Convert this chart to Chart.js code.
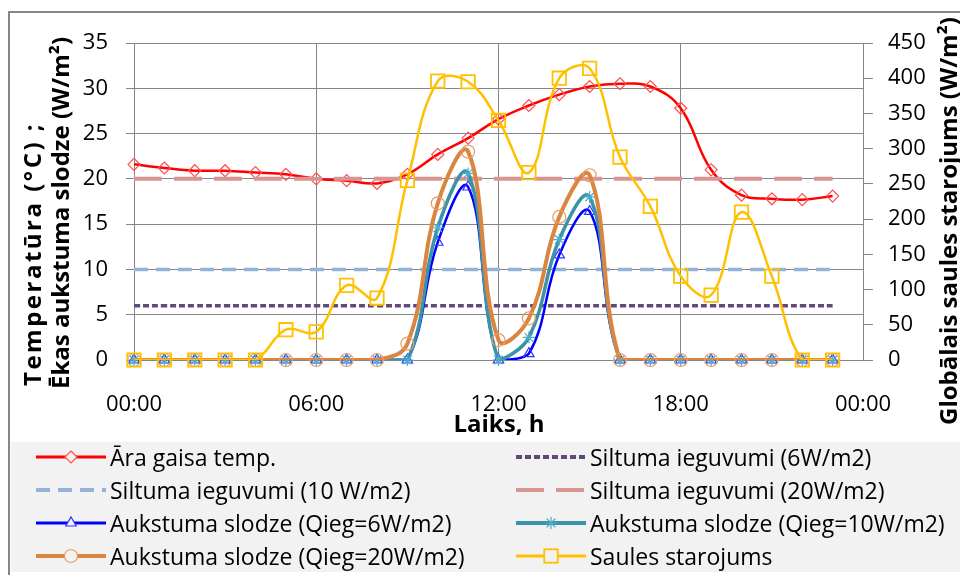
<!DOCTYPE html>
<html lang="lv">
<head>
<meta charset="utf-8">
<title>Āra gaisa temperatūra, aukstuma slodze un saules starojums</title>
<script src="https://cdn.jsdelivr.net/npm/chart.js@4.4.1/dist/chart.umd.min.js"></script>
<style>
  html, body { margin: 0; padding: 0; background: #fff; }
  #box { position: relative; width: 960px; height: 583px; overflow: hidden; font-family: "Open Sans", sans-serif; color: #000; }
  #frame { position: absolute; left: 8px; top: 11px; width: 1000px; height: 562px; border-left: 2px solid #868686; border-top: 2px solid #868686; }
  #chart { position: absolute; left: 0; top: 0; }
  .axis-title { position: absolute; font-weight: bold; font-size: 24px; line-height: 24px; white-space: nowrap; }
  .rot { transform-origin: 0 0; transform: rotate(-90deg); }
  #legend { position: absolute; left: 11px; top: 442px; width: 949px; height: 130px; background: #f2f2f2; }
  .item { position: absolute; height: 32px; display: flex; align-items: center; font-size: 23px; white-space: nowrap; }
  .item svg { margin-right: 4px; flex: none; }
</style>
</head>
<body>
<div id="box">
  <div id="frame"></div>
  <canvas id="chart" width="960" height="583"></canvas>
  <div class="axis-title rot" style="left:20px; top:386px; letter-spacing:2.5px;">Temperatūra (°C) ;</div>
  <div class="axis-title rot" style="left:48px; top:389px;">Ēkas aukstuma slodze (W/m²)</div>
  <div class="axis-title rot" style="left:936px; top:425px;">Globālais saules starojums (W/m²)</div>
  <div class="axis-title" style="left:499px; top:411px; transform:translateX(-50%);">Laiks, h</div>
  <div id="legend"></div>
</div>
<script>
// hourly values, 00:00 .. 23:00
const hours = [0, 1, 2, 3, 4, 5, 6, 7, 8, 9, 10, 11, 12, 13, 14, 15, 16, 17, 18, 19, 20, 21, 22, 23];
const xTickValues = [0, 6, 12, 18, 24];
const xTickLabels = ['00:00', '06:00', '12:00', '18:00', '00:00'];

const outdoorTemp = [21.6, 21.2, 20.9, 20.9, 20.7, 20.5, 20.0, 19.8, 19.5, 20.5, 22.7, 24.5,
                     26.6, 28.1, 29.3, 30.2, 30.5, 30.2, 27.8, 21.0, 18.2, 17.8, 17.7, 18.1];
const gains6 = [6, 6, 6, 6, 6, 6, 6, 6, 6, 6, 6, 6, 6, 6, 6, 6, 6, 6, 6, 6, 6, 6, 6, 6];
const gains10 = [10, 10, 10, 10, 10, 10, 10, 10, 10, 10, 10, 10, 10, 10, 10, 10, 10, 10, 10, 10, 10, 10, 10, 10];
const gains20 = [20, 20, 20, 20, 20, 20, 20, 20, 20, 20, 20, 20, 20, 20, 20, 20, 20, 20, 20, 20, 20, 20, 20, 20];
const coolingQ6 = [0, 0, 0, 0, 0, 0, 0, 0, 0, 0, 13.0, 19.1, 0, 0.7, 11.6, 16.4, 0, 0, 0, 0, 0, 0, 0, 0];
const coolingQ10 = [0, 0, 0, 0, 0, 0, 0, 0, 0, 0, 14.6, 20.6, 0, 2.5, 13.3, 18.0, 0, 0, 0, 0, 0, 0, 0, 0];
const coolingQ20 = [0, 0, 0, 0, 0, 0, 0, 0, 0, 1.8, 17.3, 23.0, 2.2, 4.6, 15.8, 20.4, 0, 0, 0, 0, 0, 0, 0, 0];
const solarRadiation = [0, 0, 0, 0, 0, 43, 40, 106, 88, 255, 396, 395, 340, 266, 400, 414, 288, 218, 119, 92, 210, 119, 0, 0];

const seriesNames = [
  'Āra gaisa temp.',
  'Siltuma ieguvumi (6W/m2)',
  'Siltuma ieguvumi (10 W/m2)',
  'Siltuma ieguvumi (20W/m2)',
  'Aukstuma slodze (Qieg=6W/m2)',
  'Aukstuma slodze (Qieg=10W/m2)',
  'Aukstuma slodze (Qieg=20W/m2)',
  'Saules starojums'
];
const seriesValues = [outdoorTemp, gains6, gains10, gains20, coolingQ6, coolingQ10, coolingQ20, solarRadiation];

const styles = [
  { color: '#FF0000', width: 2.5, dash: [], marker: 'rectRot', markerColor: '#FF4D4D', radius: 6, axis: 'y' },
  { color: '#604A7B', width: 3.5, dash: [6, 3], marker: null, axis: 'y' },
  { color: '#95B3D7', width: 3.5, dash: [14, 8], marker: null, axis: 'y' },
  { color: '#D99594', width: 4, dash: [28, 12], marker: null, axis: 'y' },
  { color: '#0000FF', width: 2.5, dash: [], marker: 'triangle', markerColor: '#3030FF', radius: 6, axis: 'y' },
  { color: '#3A93A9', width: 3.5, dash: [], marker: 'star', markerColor: '#4BACC6', radius: 6, axis: 'y' },
  { color: '#DA8540', width: 4, dash: [], marker: 'circle', markerColor: '#E89C68', radius: 6.5, axis: 'y' },
  { color: '#FFC000', width: 2.5, dash: [], marker: 'rect', markerColor: '#FFC000', radius: 9.5, axis: 'y2' }
];

const toPoints = values => hours.map((h, i) => ({ x: h, y: values[i] }));

const datasets = [];
seriesValues.forEach((values, i) => {
  const st = styles[i];
  const order = (seriesValues.length - i) * 2;
  datasets.push({
    label: seriesNames[i],
    data: toPoints(values),
    yAxisID: st.axis,
    borderColor: st.color,
    borderWidth: st.width,
    borderDash: st.dash,
    pointRadius: 0,
    tension: 0.4,
    fill: false,
    order: order
  });
  if (st.marker) {
    datasets.push({
      label: seriesNames[i] + ' (markers)',
      data: toPoints(values),
      yAxisID: st.axis,
      showLine: false,
      clip: false,
      pointStyle: st.marker,
      pointRadius: st.radius,
      pointBorderColor: st.markerColor,
      pointBackgroundColor: 'rgba(0,0,0,0)',
      pointBorderWidth: st.marker === 'rect' ? 1.8 : 1.2,
      order: order - 1
    });
  }
});

Chart.defaults.font.family = '"Open Sans", sans-serif';
Chart.defaults.color = '#000';

const tickFont = { family: '"Open Sans", sans-serif', size: 22 };

new Chart(document.getElementById('chart'), {
  type: 'line',
  data: { datasets },
  options: {
    responsive: false,
    animation: false,
    devicePixelRatio: 1,
    layout: { padding: { top: 43, left: 0, right: 0, bottom: 0 } },
    plugins: { legend: { display: false }, tooltip: { enabled: false } },
    events: [],
    scales: {
      x: {
        type: 'linear',
        min: 0,
        max: 24,
        afterBuildTicks: scale => { scale.ticks = xTickValues.map(v => ({ value: v })); },
        ticks: {
          callback: v => xTickLabels[xTickValues.indexOf(v)],
          font: tickFont,
          color: '#000',
          padding: 32,
          maxRotation: 0,
          autoSkip: false
        },
        grid: { color: '#868686', lineWidth: 1, tickLength: 0 },
        border: { color: '#868686' },
        afterFit: scale => { scale.height = 223; }
      },
      y: {
        position: 'left',
        min: 0,
        max: 35,
        ticks: { stepSize: 5, font: tickFont, color: '#000', padding: 18 },
        grid: { color: '#868686', lineWidth: 1, tickLength: 8 },
        border: { color: '#868686' },
        afterFit: scale => { scale.width = 134; }
      },
      y2: {
        position: 'right',
        min: 0,
        max: 450,
        ticks: { stepSize: 50, font: tickFont, color: '#000', padding: 15 },
        grid: { drawOnChartArea: false, color: '#868686', lineWidth: 1, tickLength: 10 },
        border: { color: '#868686' },
        afterFit: scale => { scale.width = 97; }
      }
    }
  }
});

// legend below the chart, two columns
function markerSvg(st, cx, cy) {
  const c = st.markerColor;
  const r = st.radius;
  if (st.marker === 'rectRot') {
    return `<polygon points="${cx},${cy - r} ${cx + r},${cy} ${cx},${cy + r} ${cx - r},${cy}" fill="#f2f2f2" stroke="${c}" stroke-width="1.2"/>`;
  }
  if (st.marker === 'triangle') {
    return `<polygon points="${cx},${cy - r} ${cx + r * 0.87},${cy + r * 0.5} ${cx - r * 0.87},${cy + r * 0.5}" fill="#f2f2f2" stroke="${c}" stroke-width="1.2"/>`;
  }
  if (st.marker === 'star') {
    const d = r * 0.707;
    return `<path d="M${cx} ${cy - r}V${cy + r}M${cx - r} ${cy}H${cx + r}M${cx - d} ${cy - d}L${cx + d} ${cy + d}M${cx - d} ${cy + d}L${cx + d} ${cy - d}" stroke="${c}" stroke-width="1.2"/>`;
  }
  if (st.marker === 'circle') {
    return `<circle cx="${cx}" cy="${cy}" r="${r}" fill="#f2f2f2" stroke="${c}" stroke-width="1.2"/>`;
  }
  if (st.marker === 'rect') {
    const s = r * 0.707;
    return `<rect x="${cx - s}" y="${cy - s}" width="${2 * s}" height="${2 * s}" fill="#f2f2f2" stroke="${c}" stroke-width="1.8"/>`;
  }
  return '';
}

const legend = document.getElementById('legend');
seriesNames.forEach((name, i) => {
  const st = styles[i];
  const col = i % 2;
  const row = Math.floor(i / 2);
  const item = document.createElement('div');
  item.className = 'item';
  item.style.left = (col === 0 ? 25 : 505) + 'px';
  item.style.top = (row * 33 - 1) + 'px';
  const dash = st.dash.length ? ` stroke-dasharray="${st.dash.join(' ')}"` : '';
  item.innerHTML =
    `<svg width="70" height="24" viewBox="0 0 70 24">` +
    `<line x1="0" y1="12" x2="70" y2="12" stroke="${st.color}" stroke-width="${Math.min(st.width + 0.5, 4)}"${dash}/>` +
    markerSvg(st, 35, 12) +
    `</svg><span>${name}</span>`;
  legend.appendChild(item);
});
</script>
</body>
</html>
